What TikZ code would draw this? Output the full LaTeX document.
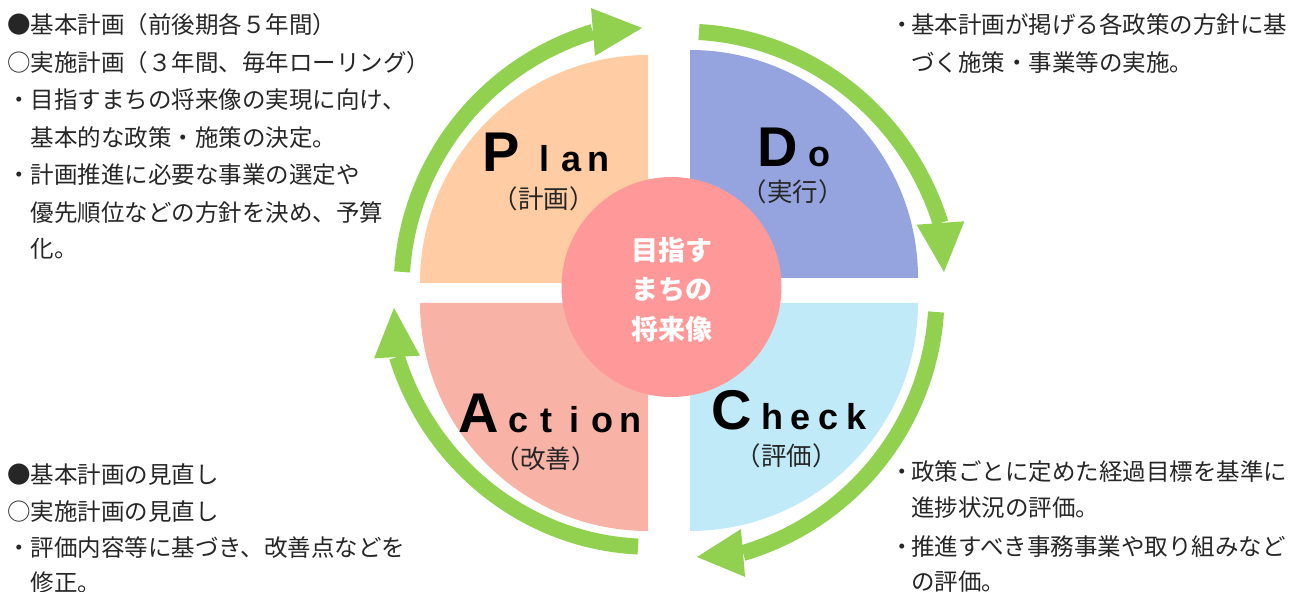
\documentclass[tikz,border=0pt]{standalone}
\usepackage{fontspec}
\setmainfont{Noto Sans CJK JP}
\newfontfamily\latinfont{Liberation Sans}
\definecolor{plancol}{HTML}{FFCCA3}
\definecolor{docol}{HTML}{95A4DE}
\definecolor{checkcol}{HTML}{C1EAF9}
\definecolor{actcol}{HTML}{F8B3A6}
\definecolor{goalcol}{HTML}{FF9898}
\definecolor{arrowgreen}{HTML}{92D050}
\definecolor{txt}{HTML}{262626}
\newcommand\lt[2][14pt]{\makebox[#1]{#2}}
\begin{document}
\begin{tikzpicture}[x=0.5pt,y=-0.5pt,
  body/.style={font=\fontsize{11.75}{14}\selectfont, text=txt, inner sep=0pt, anchor=west},
  biglet/.style={font=\latinfont\bfseries\fontsize{28}{30}\selectfont, text=black, inner sep=0pt, anchor=base west},
  smalllet/.style={font=\latinfont\bfseries\fontsize{18}{20}\selectfont, text=black, inner sep=0pt, anchor=base west},
  jplab/.style={font=\fontsize{12.75}{14}\selectfont, text=txt, inner sep=0pt, anchor=center},
  band/.style={draw=arrowgreen, line width=8pt},
  head/.style={fill=arrowgreen}]
\useasboundingbox (0,0) rectangle (1307,592);
% quadrants
\fill[plancol] (648,283) -- (420,283) arc[start angle=180,end angle=270,radius=228] -- cycle;
\fill[docol] (690,278) -- (690,50) arc[start angle=270,end angle=360,radius=228] -- cycle;
\fill[checkcol] (690,303) -- (918,303) arc[start angle=0,end angle=90,radius=228] -- cycle;
\fill[actcol] (648,303) -- (648,531) arc[start angle=90,end angle=180,radius=228] -- cycle;
% centre circle
\fill[goalcol] (671.5,287) circle[radius=110];
\node[font=\fontsize{13.5}{19.75}\selectfont\bfseries, text=white, align=center, inner sep=0pt] (goal) at (671.5,289.5) {目指す\\まちの\\将来像};
% arrows
\draw[band] plot[domain=175.7:106.3, samples=60, variable=\t]
  ({669+(267.7+(\t-175.7)*(271-267.7)/(106.3-175.7))*cos(\t)}, {292-(267.7+(\t-175.7)*(271-267.7)/(106.3-175.7))*sin(\t)});
\fill[head] (591.05,8.1) -- (642,28) -- (594.95,55.9) -- cycle;
\draw[band] plot[domain=83.42:14.26, samples=60, variable=\t]
  ({669+(261.7+(\t-83.42)*(280.1-261.7)/(14.26-83.42))*cos(\t)}, {292-(261.7+(\t-83.42)*(280.1-261.7)/(14.26-83.42))*sin(\t)});
\fill[head] (964.4,221.3) -- (944,272) -- (916.6,224.7) -- cycle;
\draw[band] plot[domain=-4.28:-74.17, samples=60, variable=\t]
  ({669+(267.75+(\t+4.28)*(271.3-267.75)/(-74.17+4.28))*cos(\t)}, {292-(267.75+(\t+4.28)*(271.3-267.75)/(-74.17+4.28))*sin(\t)});
\fill[head] (745.1,576.9) -- (697,557) -- (740.9,529.1) -- cycle;
\draw[band] plot[domain=263.06:193.44, samples=60, variable=\t]
  ({669+(256.4+(\t-263.06)*(279.7-256.4)/(193.44-263.06))*cos(\t)}, {292-(256.4+(\t-263.06)*(279.7-256.4)/(193.44-263.06))*sin(\t)});
\fill[head] (419.96,355.6) -- (394,308) -- (374.04,358.4) -- cycle;
% PDCA labels
\node[biglet] (P) at (482,172) {P};
\node[smalllet] (lan) at (530.5,172) {\lt[13.5pt]{l}\lt[13.5pt]{a}\lt[13.5pt]{n}};
\node[jplab] (planjp) at (543.5,198.5) {（計画）};
\node[biglet] (D) at (757,167) {D};
\node[smalllet, anchor=base] (o) at (819,167) {o};
\node[jplab] (dojp) at (792.5,192) {（実行）};
\node[biglet] (A) at (458,433) {A};
\node[smalllet] (ction) at (504,433) {\lt{c}\lt{t}\lt{i}\lt{o}\lt{n}};
\node[jplab] (actjp) at (545.5,458.5) {（改善）};
\node[biglet] (C) at (711,430) {C};
\node[smalllet] (heck) at (758,430) {\lt{h}\lt{e}\lt{c}\lt{k}};
\node[jplab] (checkjp) at (786.5,455.5) {（評価）};
% text blocks: top left
\node[body] (lt1) at (7,25) {●基本計画（前後期各５年間）};
\node[body] (lt2) at (7,62.5) {○実施計画（３年間、毎年ローリング）};
\node[body] (lt3) at (7,100) {・目指すまちの将来像の実現に向け、};
\node[body] (lt4) at (30.5,137.5) {基本的な政策・施策の決定。};
\node[body] (lt5) at (7,175) {・計画推進に必要な事業の選定や};
\node[body] (lt6) at (30.5,212.5) {優先順位などの方針を決め、予算};
\node[body] (lt7) at (30.5,249) {化。};
% bottom left
\node[body] (lb1) at (7,475) {●基本計画の見直し};
\node[body] (lb2) at (7,512) {○実施計画の見直し};
\node[body] (lb3) at (7,548) {・評価内容等に基づき、改善点などを};
\node[body] (lb4) at (30.5,583) {修正。};
% top right
\node[body] (rt1) at (893,25) {\makebox[9pt]{・}基本計画が掲げる各政策の方針に基};
\node[body] (rt2) at (911,63) {づく施策・事業等の実施。};
% bottom right
\node[body] (rb1) at (893,472) {\makebox[9pt]{・}政策ごとに定めた経過目標を基準に};
\node[body] (rb2) at (911,508) {進捗状況の評価。};
\node[body] (rb3) at (893,547) {\makebox[9pt]{・}推進すべき事務事業や取り組みなど};
\node[body] (rb4) at (911,582) {の評価。};
\end{tikzpicture}
\end{document}
